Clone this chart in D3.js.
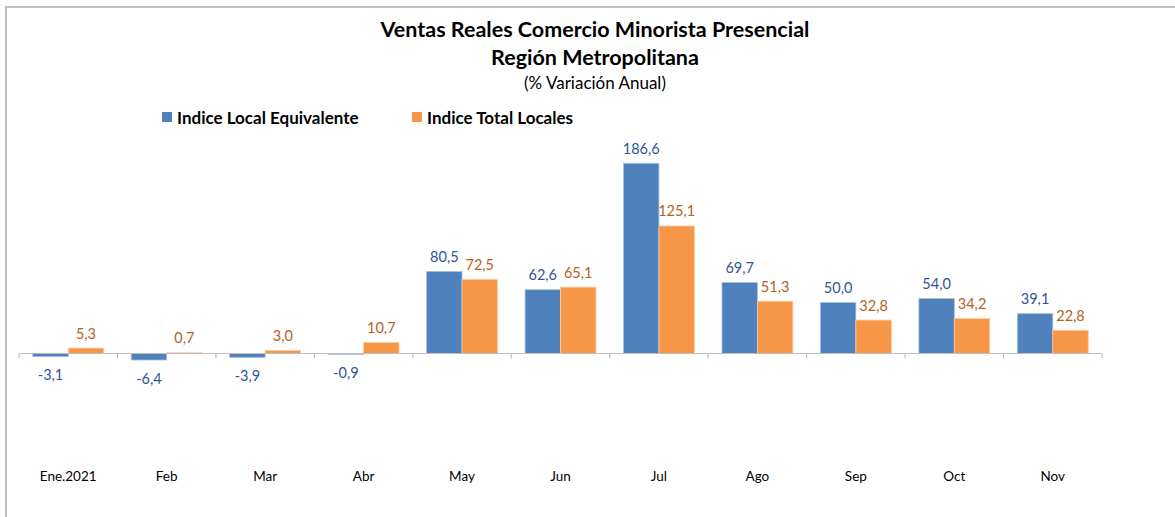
<!DOCTYPE html>
<html>
<head>
<meta charset="utf-8">
<script src="https://cdn.jsdelivr.net/npm/d3@7"></script>
<style>
  body { margin: 0; background: #fff; }
  text { font-family: "Lato", "Open Sans", sans-serif; }
</style>
</head>
<body>
<div id="chart"></div>
<script>
// Data
const categories = ["Ene.2021", "Feb", "Mar", "Abr", "May", "Jun", "Jul", "Ago", "Sep", "Oct", "Nov"];
const seriesNames = ["Indice Local Equivalente", "Indice Total Locales"];
const localEquivalente = [-3.1, -6.4, -3.9, -0.9, 80.5, 62.6, 186.6, 69.7, 50.0, 54.0, 39.1];
const totalLocales = [5.3, 0.7, 3.0, 10.7, 72.5, 65.1, 125.1, 51.3, 32.8, 34.2, 22.8];

const W = 1175, H = 517;
const barColors = ["#4f81bd", "#f79646"];
const labelColors = ["#2f5597", "#b5611d"];

const svg = d3.select("#chart").append("svg")
    .attr("width", W)
    .attr("height", H);

// chart frame (only top and left edges are visible in the crop)
svg.append("line").attr("x1", 6).attr("x2", W).attr("y1", 7).attr("y2", 7)
    .attr("stroke", "#bfbfbf").attr("stroke-width", 2);
svg.append("line").attr("x1", 6).attr("x2", 6).attr("y1", 6).attr("y2", H)
    .attr("stroke", "#bfbfbf").attr("stroke-width", 2);

// Titles
svg.append("text").attr("x", 595).attr("y", 37).attr("text-anchor", "middle")
    .attr("font-size", 21.5).attr("font-weight", "bold").attr("fill", "#000")
    .text("Ventas Reales Comercio Minorista Presencial");
svg.append("text").attr("x", 595).attr("y", 65).attr("text-anchor", "middle")
    .attr("font-size", 21.5).attr("font-weight", "bold").attr("fill", "#000")
    .text("Región Metropolitana");
svg.append("text").attr("x", 595).attr("y", 89).attr("text-anchor", "middle")
    .attr("font-size", 17).attr("fill", "#000")
    .text("(% Variación Anual)");

// Legend
const legendX = [162, 412];
const legend = svg.append("g").selectAll("g")
    .data(seriesNames)
    .join("g")
    .attr("transform", (d, i) => `translate(${legendX[i]},112)`);
legend.append("rect").attr("width", 10).attr("height", 10).attr("fill", (d, i) => barColors[i]);
legend.append("text").attr("x", 15).attr("y", 11.5)
    .attr("font-size", 17).attr("font-weight", "bold").attr("fill", "#000")
    .text((d) => d);

// Scales
const x0 = d3.scaleBand().domain(categories).range([19, 1102]).paddingInner(0.28).paddingOuter(0.14);
const x1 = d3.scaleBand().domain([0, 1]).range([0, x0.bandwidth()]);
const y = d3.scaleLinear().domain([0, 186.6]).range([353.5, 163.3]);

const data = categories.map((c, i) => ({ cat: c, values: [localEquivalente[i], totalLocales[i]] }));

// Bars
const groups = svg.append("g").selectAll("g")
    .data(data)
    .join("g")
    .attr("transform", (d) => `translate(${x0(d.cat)},0)`);

groups.selectAll("rect")
    .data((d) => d.values.map((v, i) => ({ v, i })))
    .join("rect")
    .attr("x", (d) => x1(d.i))
    .attr("y", (d) => y(Math.max(0, d.v)))
    .attr("width", x1.bandwidth())
    .attr("height", (d) => Math.abs(y(d.v) - y(0)))
    .attr("fill", (d) => barColors[d.i])
    .attr("stroke", (d) => d.i === 0 ? "#a7c0de" : "#fbcaa2")
    .attr("stroke-width", 0.8);

// Value labels
const fmt = (v) => v.toFixed(1).replace(".", ",");
groups.selectAll("text")
    .data((d) => d.values.map((v, i) => ({ v, i })))
    .join("text")
    .attr("x", (d) => x1(d.i) + x1.bandwidth() / 2)
    .attr("y", (d) => d.v >= 0 ? y(d.v) - 9.5 : y(d.v) + 23.5)
    .attr("text-anchor", "middle")
    .attr("font-size", 14.5)
    .attr("fill", (d) => labelColors[d.i])
    .text((d) => fmt(d.v));

// Axis line and category ticks
const axis = svg.append("g");
axis.append("line").attr("x1", 19).attr("x2", 1102).attr("y1", y(0)).attr("y2", y(0))
    .attr("stroke", "#bfbfbf").attr("stroke-width", 1.2);
const tickPos = categories.map((c) => x0(c) - x0.step() * x0.paddingInner() / 2);
tickPos.push(1102);
axis.selectAll(".tick")
    .data(tickPos)
    .join("line")
    .attr("class", "tick")
    .attr("x1", (d) => d).attr("x2", (d) => d)
    .attr("y1", y(0)).attr("y2", y(0) + 5)
    .attr("stroke", "#bfbfbf").attr("stroke-width", 1.2);

// Category labels (at the bottom of the plot area)
svg.append("g").selectAll("text")
    .data(categories)
    .join("text")
    .attr("x", (d) => x0(d) + x0.bandwidth() / 2)
    .attr("y", 481)
    .attr("text-anchor", "middle")
    .attr("font-size", 13.5)
    .attr("fill", "#000")
    .text((d) => d);
</script>
</body>
</html>
